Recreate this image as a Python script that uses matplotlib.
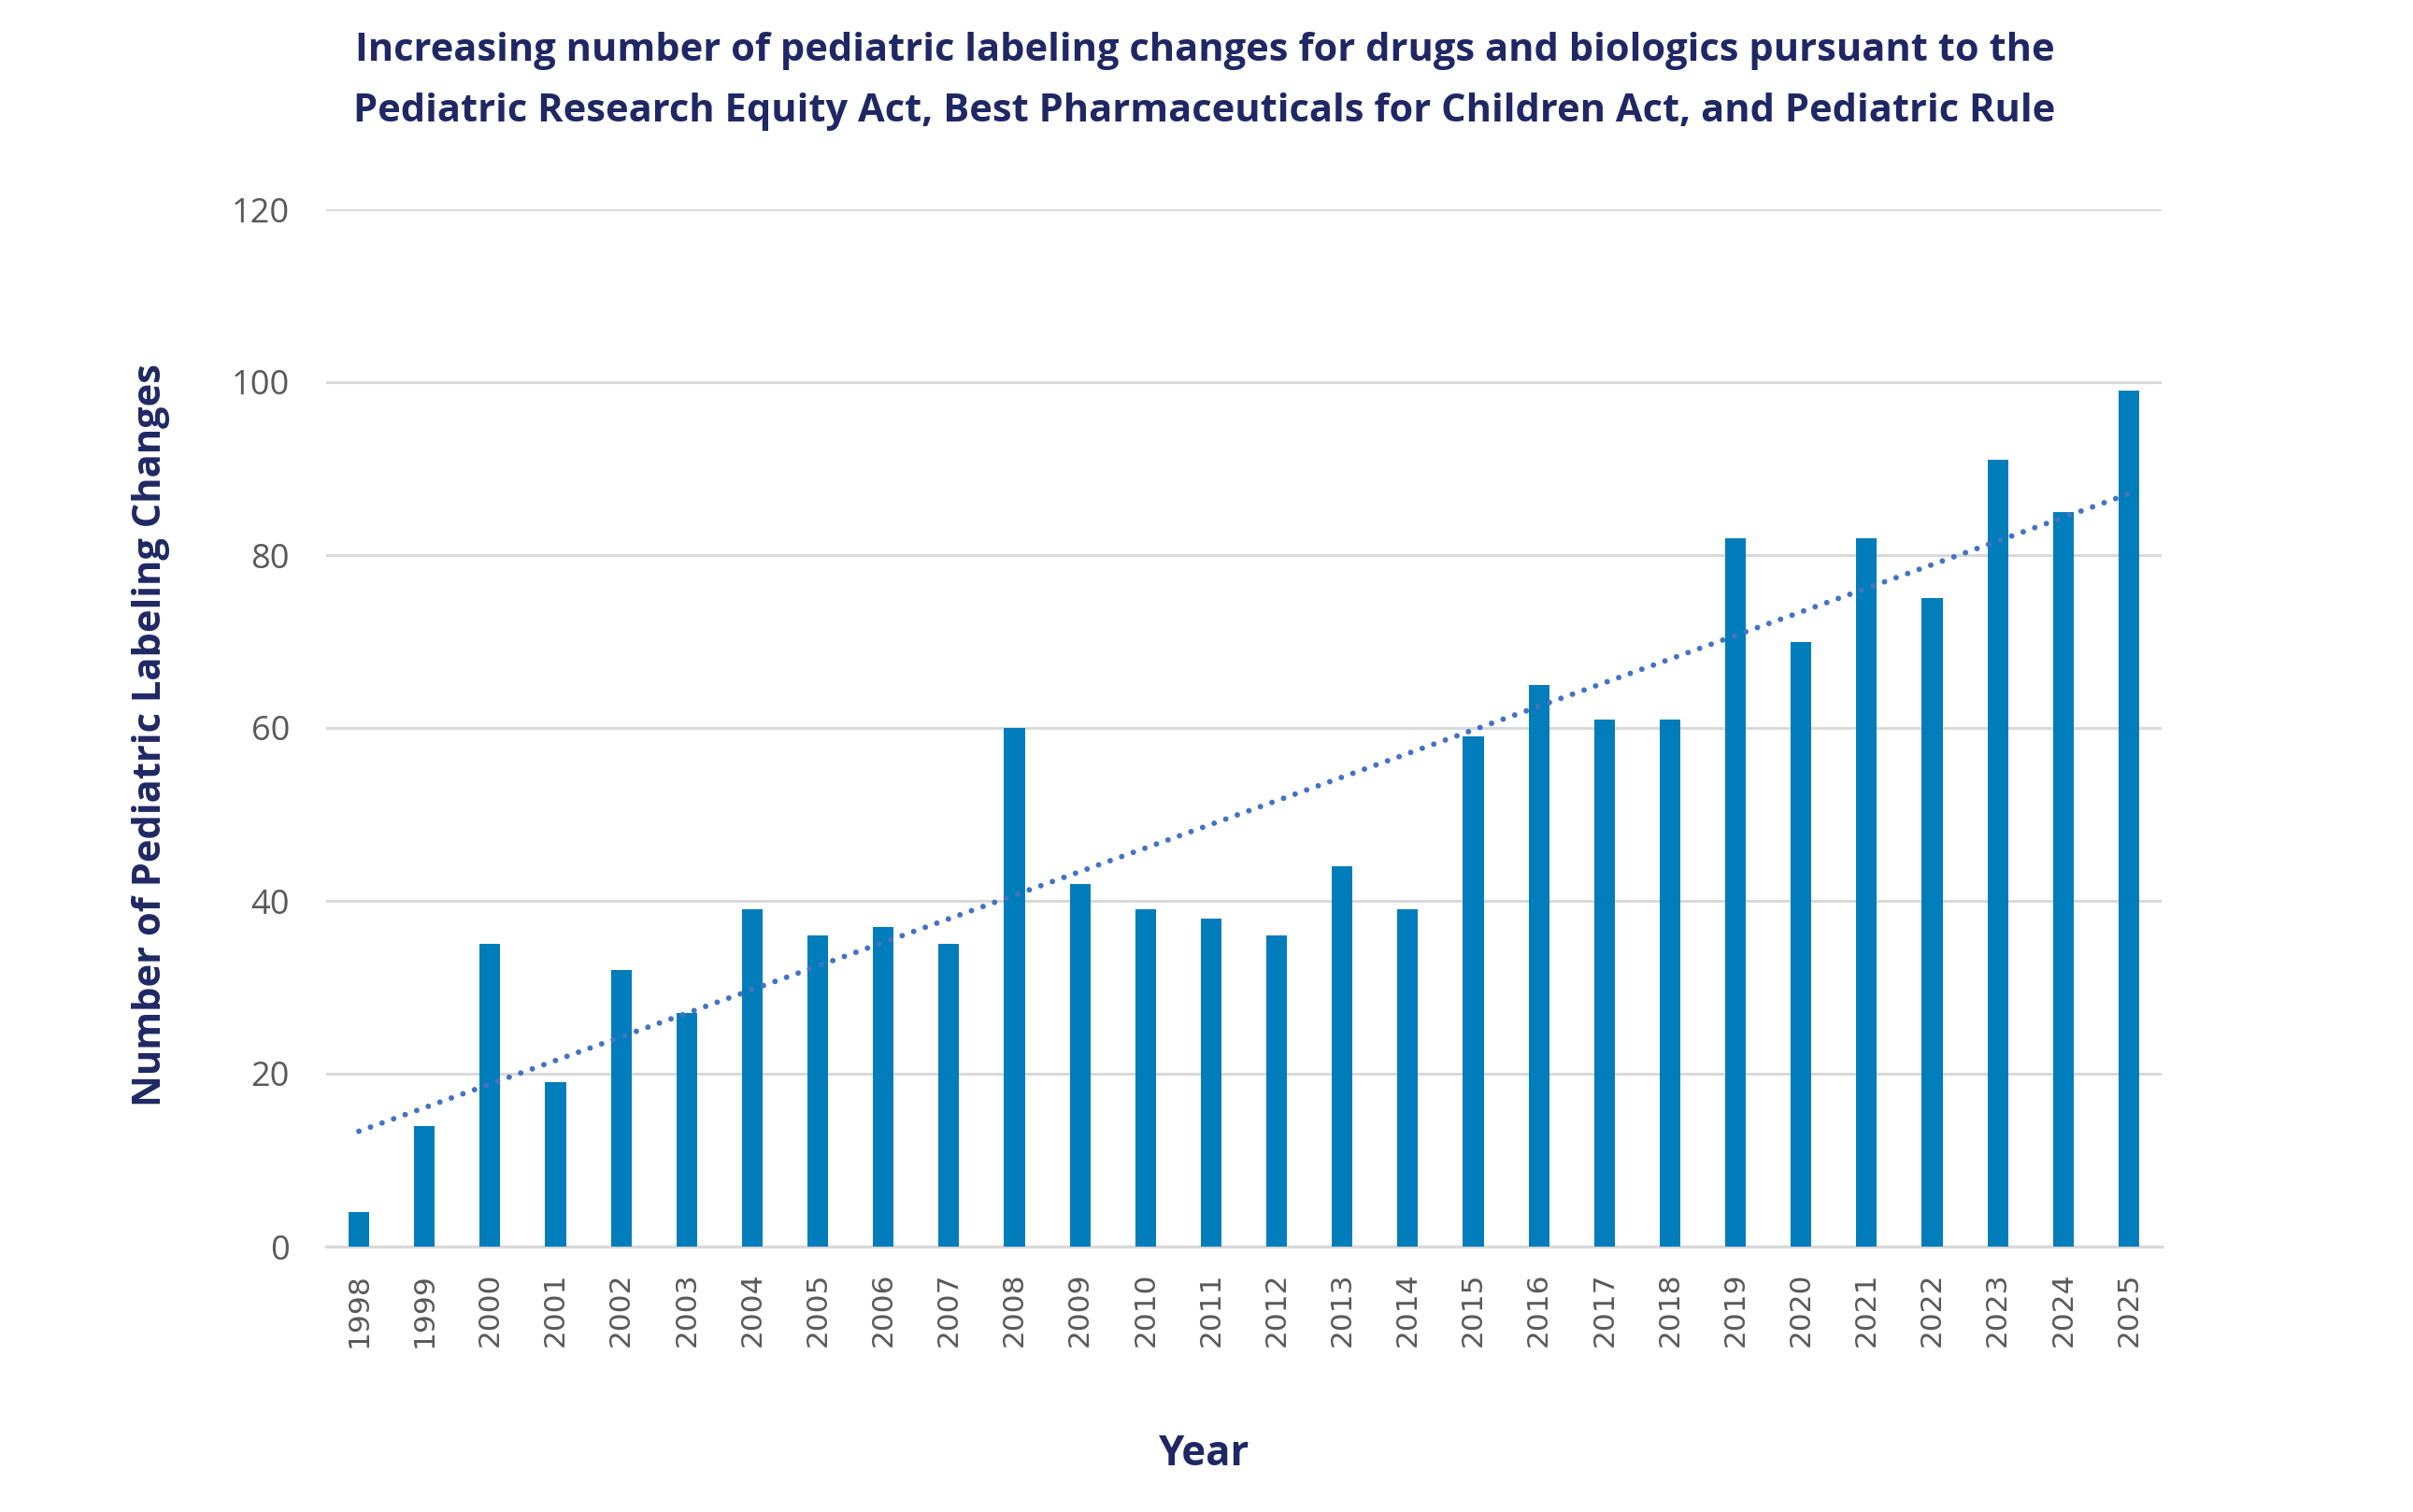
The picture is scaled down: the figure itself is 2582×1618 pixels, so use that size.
import matplotlib
matplotlib.use("Agg")
import matplotlib.pyplot as plt
import numpy as np

# pediatric labeling changes per year
years = [1998, 1999, 2000, 2001, 2002, 2003, 2004, 2005, 2006, 2007,
         2008, 2009, 2010, 2011, 2012, 2013, 2014, 2015, 2016, 2017,
         2018, 2019, 2020, 2021, 2022, 2023, 2024, 2025]
changes = [4, 14, 35, 19, 32, 27, 39, 36, 37, 35,
           60, 42, 39, 38, 36, 44, 39, 59, 65, 61,
           61, 82, 70, 82, 75, 91, 85, 99]
yticks = [0, 20, 40, 60, 80, 100, 120]

navy = "#1F2864"
barColor = "#007DBA"
trendColor = "#4472C4"
gridColor = "#D9D9D9"
tickColor = "#595959"
textFont = ["Open Sans", "DejaVu Sans"]

W, H = 2582, 1618
fig = plt.figure(figsize=(W / 100, H / 100), dpi=100)
left, right, top, bottom = 349, 2313, 224, 1334
ax = fig.add_axes([left / W, 1 - bottom / H, (right - left) / W, (bottom - top) / H])

x = np.arange(len(years))
ax.bar(x, changes, width=0.314, color=barColor, zorder=3)

# linear trendline like the Excel one
coef = np.polyfit(x, changes, 1)
ax.plot(x, np.polyval(coef, x), linestyle=(0, (0.001, 2.2)), color=trendColor,
        linewidth=4.3, dash_capstyle="round", zorder=4)

ax.set_xlim(-0.5, len(years) - 0.5)
ax.set_ylim(0, 120)
ax.set_yticks(yticks)
ax.set_yticklabels([str(t) for t in yticks], fontsize=26, color=tickColor,
                   family=textFont)
ax.set_xticks(x)
ax.set_xticklabels([str(y) for y in years], rotation=90, fontsize=22.5,
                   color=tickColor, family="DejaVu Sans")
ax.tick_params(axis="both", length=0)
ax.tick_params(axis="y", pad=28)
ax.tick_params(axis="x", pad=20)

ax.grid(axis="y", color=gridColor, linewidth=2.2, zorder=0)
for side in ["top", "right", "left"]:
    ax.spines[side].set_visible(False)
ax.spines["bottom"].set_color(gridColor)
ax.spines["bottom"].set_linewidth(2.5)

ax.set_ylabel("Number of Pediatric Labeling Changes", fontsize=30, fontweight="bold",
              color=navy, family=textFont)
ax.yaxis.set_label_coords((162 - left) / (right - left), (bottom - 787) / (bottom - top))
ax.set_xlabel("Year", fontsize=31.5, fontweight="bold", color=navy, family=textFont)
ax.xaxis.set_label_coords((1289 - left) / (right - left), -(1557 - bottom) / (bottom - top))
ax.xaxis.label.set_va("center")
ax.yaxis.label.set_va("center")

fig.text(1289 / W, 1 - 87 / H,
         "Increasing number of pediatric labeling changes for drugs and biologics pursuant to the\n"
         "Pediatric Research Equity Act, Best Pharmaceuticals for Children Act, and Pediatric Rule",
         ha="center", va="center", fontsize=30, fontweight="bold", color=navy,
         family=textFont, linespacing=1.75)

fig.savefig("out.png", dpi=100)
